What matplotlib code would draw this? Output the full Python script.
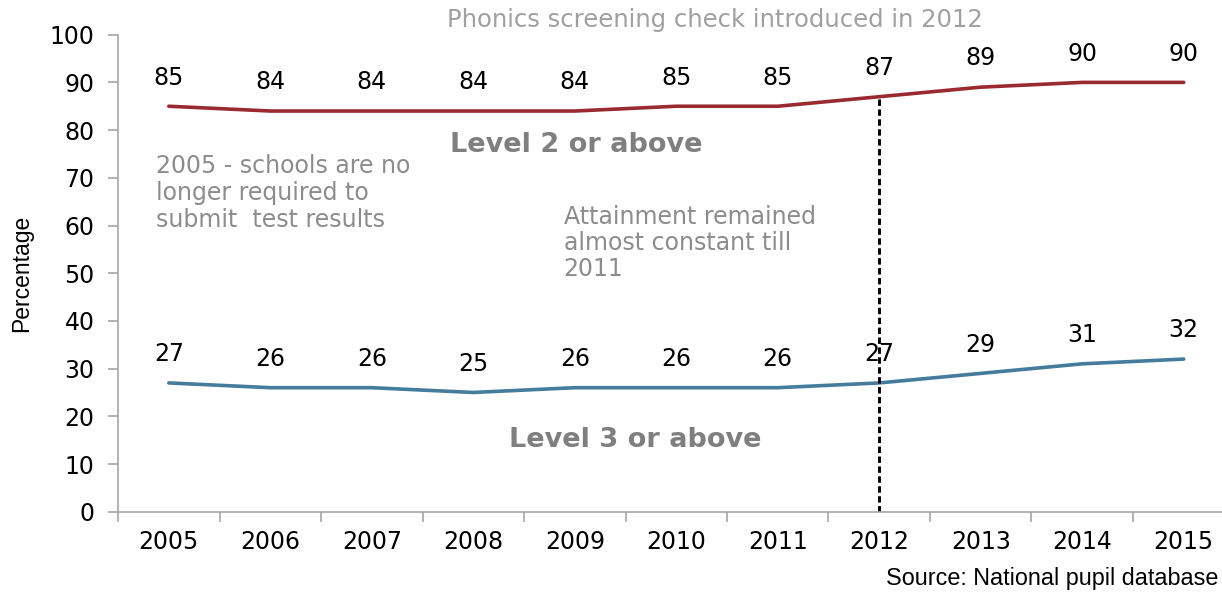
import matplotlib.pyplot as plt
import numpy as np

# Datos de la gráfica
anios = ["2005", "2006", "2007", "2008", "2009", "2010",
         "2011", "2012", "2013", "2014", "2015"]
nivel2 = [85, 84, 84, 84, 84, 85, 85, 87, 89, 90, 90]
nivel3 = [27, 26, 26, 25, 26, 26, 26, 27, 29, 31, 32]
anio_phonics = "2012"

plt.rcParams['font.family'] = ['DejaVu Sans']

fig = plt.figure(figsize=(12.22, 5.92), dpi=100)
ax = fig.add_axes([0.0966, 0.1356, 0.9136, 0.8058])

x = np.arange(len(anios))
color_rojo = "#9a2a30"
color_azul = "#457b9c"
gris_texto = "#8c8c8c"

ax.plot(x, nivel2, color=color_rojo, linewidth=2.6, solid_capstyle='round')
ax.plot(x, nivel3, color=color_azul, linewidth=2.6, solid_capstyle='round')

# etiquetas con el valor de cada punto
for serie in (nivel2, nivel3):
    for xi, v in zip(x, serie):
        ax.annotate(str(v), xy=(xi, v), xytext=(0, 12), textcoords='offset points',
                    ha='center', va='bottom', fontsize=17, color='black')

# línea vertical del año de la prueba de fonética
i_ph = anios.index(anio_phonics)
ax.plot([i_ph, i_ph], [0, nivel2[i_ph]], color='black', linewidth=2.1,
        linestyle=(0, (2.2, 1.2)))

ax.set_xlim(-0.5, len(anios) - 0.5)
ax.set_ylim(0, 100)
ax.set_yticks(range(0, 101, 10))
ax.set_xticks(x)
ax.set_xticklabels(anios)
ax.set_xticks(np.arange(-0.5, len(anios), 1), minor=True)

for lado in ['top', 'right']:
    ax.spines[lado].set_visible(False)
for lado in ['left', 'bottom']:
    ax.spines[lado].set_color('#a6a6a6')
    ax.spines[lado].set_linewidth(1.2)

ax.tick_params(axis='y', length=7, width=1.2, color='#a6a6a6', labelsize=17, pad=10)
ax.tick_params(axis='x', which='major', length=0, labelsize=17, pad=13)
ax.tick_params(axis='x', which='minor', length=7, width=1.2, color='#a6a6a6')

ax.set_ylabel("Percentage", fontsize=16.5, family='Liberation Sans', labelpad=12)

# textos explicativos
ax.text(4.01, 76.9, "Level 2 or above", fontsize=19.5, fontweight='bold',
        color='#7f7f7f', ha='center', va='center')
ax.text(4.6, 15.1, "Level 3 or above", fontsize=19.5, fontweight='bold',
        color='#7f7f7f', ha='center', va='center')
ax.text(-0.13, 75.0, "2005 - schools are no\nlonger required to\nsubmit  test results",
        fontsize=17, color=gris_texto, ha='left', va='top', linespacing=1.17)
ax.text(3.89, 64.4, "Attainment remained\nalmost constant till\n2011",
        fontsize=17, color=gris_texto, ha='left', va='top', linespacing=1.12)

fig.text(0.585, 0.966, "Phonics screening check introduced in 2012",
         fontsize=17.5, color='#a0a0a0', ha='center', va='center')
fig.text(0.997, 0.004, "Source: National pupil database", fontsize=16.8,
         family='Liberation Sans', color='black', ha='right', va='bottom')

fig.savefig("out.png", dpi=100)
